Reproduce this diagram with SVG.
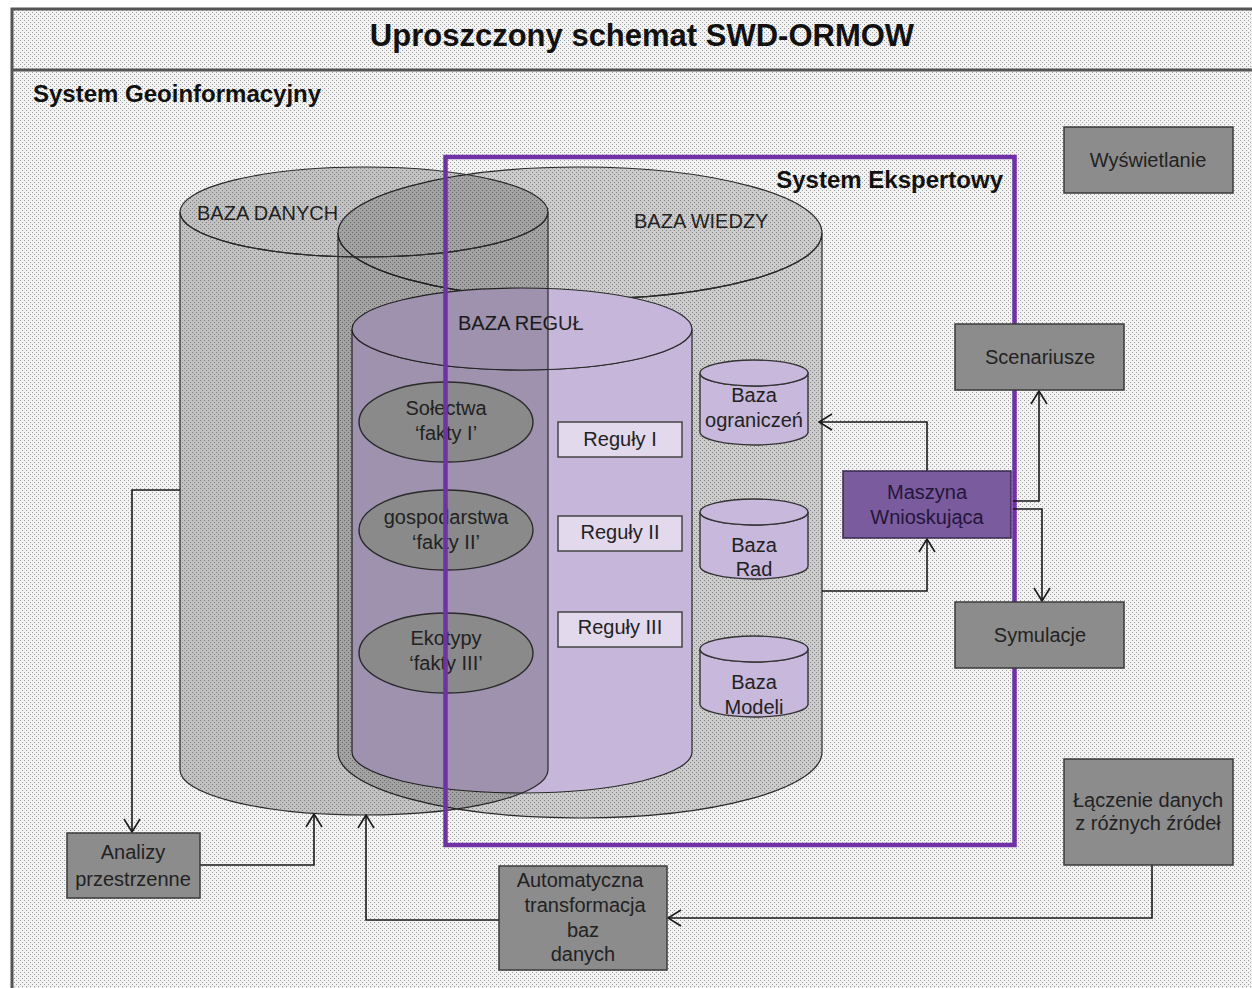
<svg xmlns="http://www.w3.org/2000/svg" width="1252" height="988" viewBox="0 0 1252 988">
<defs>
<pattern id="dots" width="4" height="4" patternUnits="userSpaceOnUse">
<rect width="4" height="4" fill="#f3f3f3"/>
<rect x="0" y="0" width="1" height="1" fill="#9a9a9a"/>
<rect x="2" y="2" width="1" height="1" fill="#9a9a9a"/>
</pattern>
<marker id="arr" viewBox="0 0 15 18" refX="14" refY="9" markerWidth="15" markerHeight="18" markerUnits="userSpaceOnUse" orient="auto">
<path d="M1,1 L14,9 L1,17" fill="none" stroke="#1a1a1a" stroke-width="1.6"/>
</marker>
<style>
text{font-family:"Liberation Sans",Arial,sans-serif;fill:#222;}
.t{font-size:20px;text-anchor:middle;}
.b{font-weight:bold;}
.box{fill:#8c8c8c;stroke:#3a3a3a;stroke-width:1.5;}
.cylG{fill:#000;fill-opacity:0.2;stroke:#2a2a2a;stroke-width:1.2;}
.cylW{fill:#000;fill-opacity:0.16;stroke:#2a2a2a;stroke-width:1.2;}
.cylR{fill:#c6b7da;stroke:#2a2a2a;stroke-width:1.2;}
.small{fill:#c8b8dc;stroke:#333;stroke-width:1.4;}
.fact{fill:#8a8a8a;stroke:#2a2a2a;stroke-width:1.4;}
.rule{fill:#e2d9ec;stroke:#444;stroke-width:1.5;}
.conn{fill:none;stroke:#1a1a1a;stroke-width:1.6;}
</style>
</defs>
<rect width="1252" height="988" fill="#fff"/>
<rect id="frame" x="12" y="9" width="1260" height="1000" fill="url(#dots)" stroke="#555" stroke-width="3"/>
<line x1="12" y1="70" x2="1252" y2="70" stroke="#555" stroke-width="3"/>
<text x="642" y="46" class="b" style="font-size:31px;text-anchor:middle;fill:#111">Uproszczony schemat SWD-ORMOW</text>
<text x="33" y="102" class="b" style="font-size:24px;fill:#111">System Geoinformacyjny</text>

<g id="baza-wiedzy">
<path class="cylW" d="M338,233 V752 A242,66 0 0 0 822,752 V233 A242,66 0 0 1 338,233 Z"/>
<ellipse class="cylW" cx="580" cy="233" rx="242" ry="66"/>
<text x="634" y="228" style="font-size:20px">BAZA WIEDZY</text>
</g>
<g id="baza-regul">
<path class="cylR" d="M352,329 V752 A170,41 0 0 0 692,752 V329 A170,41 0 0 1 352,329 Z"/>
<ellipse class="cylR" cx="522" cy="329" rx="170" ry="41"/>
<text x="458" y="330" style="font-size:20px">BAZA REGUŁ</text>
</g>
<g id="baza-danych">
<path class="cylG" d="M180,212 V770 A184,45 0 0 0 548,770 V212 A184,45 0 0 1 180,212 Z"/>
<ellipse class="cylG" cx="364" cy="212" rx="184" ry="45"/>
<text x="197" y="220" style="font-size:20px">BAZA DANYCH</text>
</g>

<g id="solectwa">
<ellipse class="fact" cx="446" cy="422" rx="87" ry="40"/>
<text class="t" x="446" y="415">Sołectwa</text>
<text class="t" x="446" y="440">‘fakty I’</text>
</g>
<g id="gospodarstwa">
<ellipse class="fact" cx="446" cy="530" rx="87" ry="40"/>
<text class="t" x="446" y="524">gospodarstwa</text>
<text class="t" x="446" y="549">‘fakty II’</text>
</g>
<g id="ekotypy">
<ellipse class="fact" cx="446" cy="653" rx="87" ry="40"/>
<text class="t" x="446" y="645">Ekotypy</text>
<text class="t" x="446" y="670">‘fakty III’</text>
</g>

<g id="reguly-1"><rect class="rule" x="558" y="422" width="124" height="35"/><text class="t" x="620" y="446">Reguły I</text></g>
<g id="reguly-2"><rect class="rule" x="558" y="516" width="124" height="35"/><text class="t" x="620" y="539">Reguły II</text></g>
<g id="reguly-3"><rect class="rule" x="558" y="612" width="124" height="35"/><text class="t" x="620" y="634">Reguły III</text></g>

<g id="baza-ograniczen">
<path class="small" d="M700,373 V432 A54,13 0 0 0 808,432 V373 A54,13 0 0 1 700,373 Z"/>
<ellipse class="small" cx="754" cy="373" rx="54" ry="13"/>
<text class="t" x="754" y="402">Baza</text>
<text class="t" x="754" y="427">ograniczeń</text>
</g>
<g id="baza-rad">
<path class="small" d="M700,512 V566 A54,13 0 0 0 808,566 V512 A54,13 0 0 1 700,512 Z"/>
<ellipse class="small" cx="754" cy="512" rx="54" ry="13"/>
<text class="t" x="754" y="552">Baza</text>
<text class="t" x="754" y="576">Rad</text>
</g>
<g id="baza-modeli">
<path class="small" d="M700,649 V704 A54,13 0 0 0 808,704 V649 A54,13 0 0 1 700,649 Z"/>
<ellipse class="small" cx="754" cy="649" rx="54" ry="13"/>
<text class="t" x="754" y="689">Baza</text>
<text class="t" x="754" y="714">Modeli</text>
</g>

<g id="system-ekspertowy">
<rect x="445.5" y="157" width="569" height="688" fill="none" stroke="#7030a8" stroke-width="4.5"/>
<text x="1003" y="188" class="b" style="font-size:24px;text-anchor:end;fill:#111">System Ekspertowy</text>
</g>

<g id="connectors">
<path class="conn" marker-end="url(#arr)" d="M927,471 V422 H819"/>
<path class="conn" marker-end="url(#arr)" d="M822,591 H927 V539"/>
<path class="conn" marker-end="url(#arr)" d="M1013,501 H1039 V391"/>
<path class="conn" marker-end="url(#arr)" d="M1013,509 H1042 V601"/>
<path class="conn" marker-end="url(#arr)" d="M180,490 H132 V832"/>
<path class="conn" marker-end="url(#arr)" d="M200,865 H314 V814"/>
<path class="conn" marker-end="url(#arr)" d="M499,920 H366 V815"/>
<path class="conn" marker-end="url(#arr)" d="M1152,865 V918 H668"/>
</g>

<g id="maszyna"><rect x="843" y="471" width="168" height="67" fill="#7a5b9e" stroke="#3a2a50" stroke-width="1.5"/><text class="t" x="927" y="499" style="fill:#24163a">Maszyna</text><text class="t" x="927" y="524" style="fill:#24163a">Wnioskująca</text></g>
<g id="wyswietlanie"><rect class="box" x="1064" y="127" width="169" height="66"/><text class="t" x="1148" y="167">Wyświetlanie</text></g>
<g id="scenariusze"><rect class="box" x="955" y="324" width="169" height="66"/><text class="t" x="1040" y="364">Scenariusze</text></g>
<g id="symulacje"><rect class="box" x="955" y="602" width="169" height="66"/><text class="t" x="1040" y="642">Symulacje</text></g>
<g id="laczenie"><rect class="box" x="1064" y="759" width="169" height="106"/><text class="t" x="1148" y="807">Łączenie danych</text><text class="t" x="1148" y="830">z różnych źródeł</text></g>
<g id="analizy"><rect class="box" x="67" y="833" width="133" height="65"/><text class="t" x="133" y="859">Analizy</text><text class="t" x="133" y="886">przestrzenne</text></g>
<g id="automatyczna"><rect class="box" x="499" y="866" width="168" height="104"/><text class="t" x="580" y="887">Automatyczna</text><text class="t" x="585" y="912">transformacja</text><text class="t" x="583" y="937">baz</text><text class="t" x="583" y="961">danych</text></g>
</svg>
